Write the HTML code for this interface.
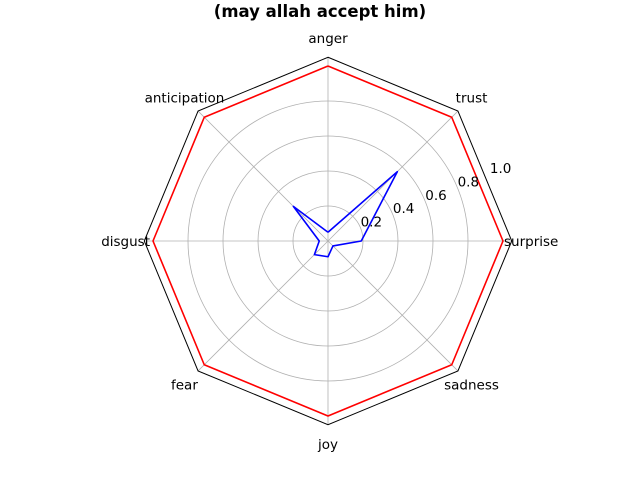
<!DOCTYPE html>
<html><head><meta charset="utf-8"><style>
body{margin:0;background:#fff;}
svg{display:block;font-family:"DejaVu Sans","Liberation Sans",sans-serif;}
</style></head><body>
<svg id="chart" width="640" height="480">
<text x="320" y="17" text-anchor="middle" font-size="16.5" font-weight="bold">(may allah accept him)</text>
<g id="grid"></g><g id="series"></g><g id="labels"></g>
</svg>
<script>
const categories=["anger","trust","surprise","sadness","joy","fear","disgust","anticipation"];
const seriesRed=[1,1,1,1,1,1,1,1];
const seriesBlue=[0.05,0.56,0.19,0.04,0.09,0.11,0.05,0.28];
const rTicks=[0.2,0.4,0.6,0.8];
const tickLabels=["0.2","0.4","0.6","0.8","1.0"];
const tickValues=[0.2,0.4,0.6,0.8,1.0];
const cx=328,cy=241,R=175,rMax=1.0,frameVal=1.05;
const NS="http://www.w3.org/2000/svg";
function rs(v){return v/rMax*R;}
function ang(i){return Math.PI/2-i*2*Math.PI/categories.length;}
function pt(i,v){const a=ang(i),r=rs(v);return [cx+r*Math.cos(a),cy-r*Math.sin(a)];}
function mk(t,attrs,parent){const e=document.createElementNS(NS,t);for(const k in attrs)e.setAttribute(k,attrs[k]);parent.appendChild(e);return e;}
const grid=document.getElementById('grid'),ser=document.getElementById('series'),lab=document.getElementById('labels');
rTicks.forEach(v=>{const c=mk('circle',{cx:cx,cy:cy,r:rs(v),fill:'none',stroke:'#b0b0b0','stroke-width':0.8},grid);

});
categories.forEach((c,i)=>{const p=pt(i,frameVal);const l=mk('line',{x1:cx,y1:cy,x2:p[0],y2:p[1],stroke:'#b0b0b0','stroke-width':0.8},grid);


const a=ang(i);let anchor='middle',r=203;
if(Math.cos(a)>0.99){anchor='start';r=176;}
if(Math.cos(a)<-0.99){anchor='end';r=178;}
const t=mk('text',{x:cx+r*Math.cos(a),y:cy-r*Math.sin(a)+5,'text-anchor':anchor,'font-size':13.5},lab);t.textContent=c;

});
const fr=mk('polygon',{points:categories.map((c,i)=>pt(i,frameVal).join(',')).join(' '),fill:'none',stroke:'#000','stroke-width':1},grid);


function drawSeries(vals,color,name){const pts=vals.map((v,i)=>pt(i,v));pts.push(pts[0]);
const p=mk('polyline',{points:pts.map(p=>p.join(',')).join(' '),fill:'none',stroke:color,'stroke-width':1.6,'stroke-linejoin':'round'},ser);

}
drawSeries(seriesRed,'#ff0000','series-red');
drawSeries(seriesBlue,'#0000ff','series-blue');
const ta=22.5*Math.PI/180;
tickValues.forEach((v,k)=>{const r=rs(v);const t=mk('text',{x:cx+r*Math.cos(ta)+11,y:cy-r*Math.sin(ta)-1,'font-size':13.5,'text-anchor':'middle'},lab);t.textContent=tickLabels[k];

});
</script>
</body></html>
